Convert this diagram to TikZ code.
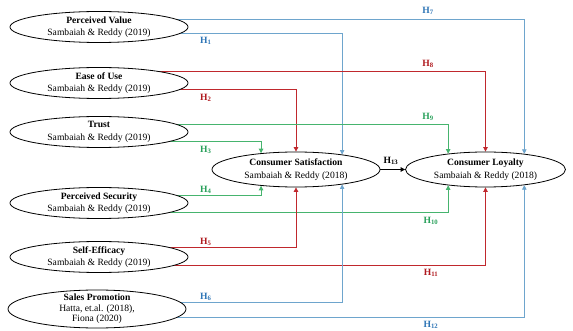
\documentclass[tikz,border=0pt]{standalone}
\usepackage{fontspec}
\setmainfont{Liberation Serif}
\usetikzlibrary{shapes.geometric,arrows.meta,calc,backgrounds}
\definecolor{bline}{RGB}{110,165,205}
\definecolor{btext}{RGB}{46,117,182}
\definecolor{rline}{RGB}{192,40,45}
\definecolor{rtext}{RGB}{175,25,30}
\definecolor{gline}{RGB}{70,180,110}
\definecolor{gtext}{RGB}{40,160,90}
\begin{document}
\begin{tikzpicture}[x=1pt,y=-1pt,
  src/.style={ellipse,draw,line width=0.8pt,fill=white,minimum width=178pt,minimum height=31pt,inner sep=0pt,font=\fontsize{9.6}{12.5}\selectfont,align=center},
  tgt/.style={ellipse,draw,line width=0.8pt,fill=white,minimum height=35pt,inner sep=0pt,font=\fontsize{9.6}{12.5}\selectfont,align=center},
  conn/.style={line width=0.8pt,-{Triangle[length=4.5pt,width=4.5pt]}},
  bl/.style={conn,color=bline},
  rl/.style={conn,color=rline},
  gl/.style={conn,color=gline},
  hl/.style={inner sep=0pt,font=\fontsize{9.6}{10}\selectfont\bfseries}
]
\useasboundingbox (0,0) rectangle (573,331);

% source constructs
\node[src] (pv) at (99,27) {\textbf{Perceived Value}\\Sambaiah \& Reddy (2019)};
\node[src] (eou) at (99,83) {\textbf{Ease of Use}\\Sambaiah \& Reddy (2019)};
\node[src] (tr) at (99,132) {\textbf{Trust}\\Sambaiah \& Reddy (2019)};
\node[src] (ps) at (99,203) {\textbf{Perceived Security}\\Sambaiah \& Reddy (2019)};
\node[src] (se) at (99,257) {\textbf{Self-Efficacy}\\Sambaiah \& Reddy (2019)};
\node[src,minimum height=38pt] (sp) at (97,309) {};
\node[inner sep=0pt,align=center,font=\fontsize{9.6}{10.6}\selectfont] (sptext) at (sp.center) {\textbf{Sales Promotion}\\Hatta, et.al. (2018),\\Fiona (2020)};

% target constructs
\node[tgt,minimum width=168pt] (cs) at (296,169.5) {\textbf{Consumer Satisfaction}\\Sambaiah \& Reddy (2018)};
\node[tgt,minimum width=160pt] (cl) at (485.5,169.5) {\textbf{Consumer Loyalty}\\Sambaiah \& Reddy (2018)};

\draw[conn,color=black] (cs.east) -- (cl.west);
\node[hl,anchor=south] (h13) at (391,165) {H\textsubscript{13}};

\begin{scope}[on background layer]
  \draw[bl] ($(pv.center)+(0,6)$) -| (cs.18.17);
  \draw[bl] ($(pv.center)+(0,-8)$) -| (cl.22.4);
  \draw[rl] ($(eou.center)+(0,6)$) -| (cs.90);
  \draw[rl] ($(eou.center)+(0,-12)$) -| (cl.90);
  \draw[gl] ($(tr.center)+(0,9)$) -| (cs.155.55);
  \draw[gl] ($(tr.center)+(0,-8)$) -| (cl.157.6);
  \draw[gl] ($(ps.center)+(0,-8)$) -| (cs.-155.55);
  \draw[gl] ($(ps.center)+(0,9)$) -| (cl.-157.6);
  \draw[rl] ($(se.center)+(0,-10)$) -| (cs.-90);
  \draw[rl] ($(se.center)+(0,8)$) -| (cl.-90);
  \draw[bl] ($(sp.center)+(0,-7)$) -| (cs.-18.17);
  \draw[bl] ($(sp.center)+(0,8)$) -| (cl.-22.4);
\end{scope}

% hypothesis labels
\node[hl,text=btext,anchor=west] (h1) at (200,41) {H\textsubscript{1}};
\node[hl,text=rtext,anchor=west] (h2) at (200,98) {H\textsubscript{2}};
\node[hl,text=gtext,anchor=west] (h3) at (200,150) {H\textsubscript{3}};
\node[hl,text=gtext,anchor=west] (h4) at (200,190) {H\textsubscript{4}};
\node[hl,text=rtext,anchor=west] (h5) at (200,242) {H\textsubscript{5}};
\node[hl,text=btext,anchor=west] (h6) at (200,297) {H\textsubscript{6}};
\node[hl,text=btext] (h7) at (428,11) {H\textsubscript{7}};
\node[hl,text=rtext] (h8) at (428,64) {H\textsubscript{8}};
\node[hl,text=gtext] (h9) at (428,117) {H\textsubscript{9}};
\node[hl,text=gtext] (h10) at (431,221) {H\textsubscript{10}};
\node[hl,text=rtext] (h11) at (431,273) {H\textsubscript{11}};
\node[hl,text=btext] (h12) at (431,325) {H\textsubscript{12}};
\end{tikzpicture}
\end{document}
